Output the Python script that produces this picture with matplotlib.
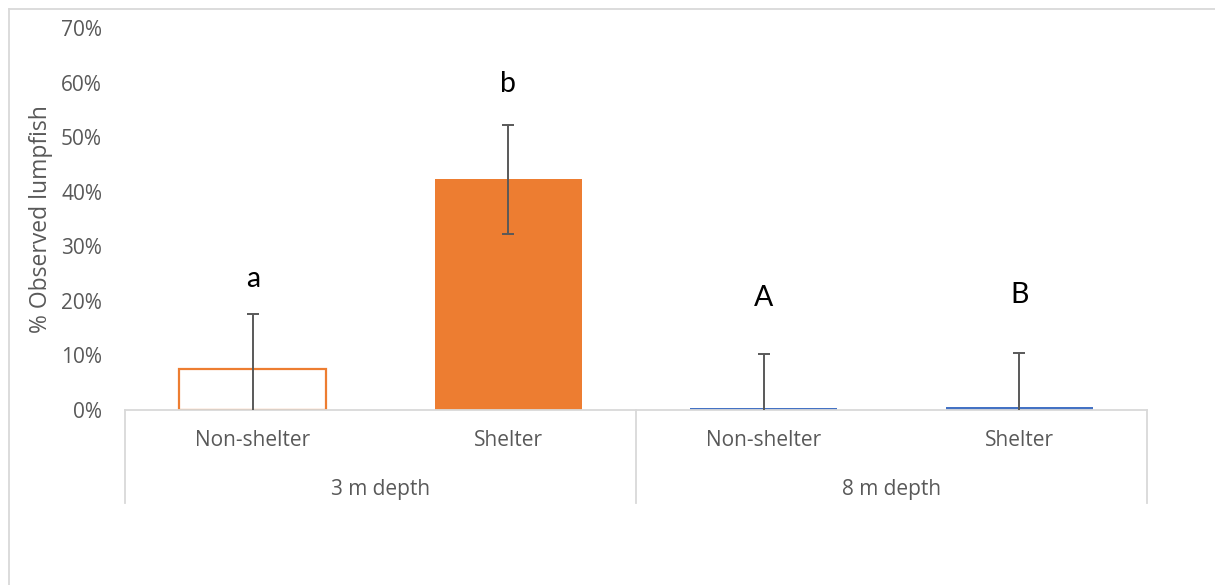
import matplotlib.pyplot as plt
from matplotlib.lines import Line2D

# observed lumpfish per treatment (%), with error (+/- %)
shelter_types = ["Non-shelter", "Shelter", "Non-shelter", "Shelter"]
depths = ["3 m depth", "8 m depth"]
observed = [7.6, 42.3, 0.3, 0.5]
errors = [10.0, 10.0, 10.0, 10.0]
letters = ["a", "b", "A", "B"]
letter_y = [22.6, 58.3, 19.1, 19.6]
yticks = [0, 10, 20, 30, 40, 50, 60, 70]

orange = "#ED7D31"
blue = "#4472C4"
grey = "#595959"
line_grey = "#D9D9D9"

fig = plt.figure(figsize=(12.15, 5.85), dpi=100)
W, H = 1215, 585
ax = fig.add_axes([125 / W, 1 - 410 / H, (1147 - 125) / W, (410 - 28) / H])

x = list(range(len(observed)))
face = ["white", orange, blue, blue]
edge = [orange, orange, blue, blue]
ax.bar(x, observed, width=0.575, color=face, edgecolor=edge, linewidth=[1.6, 0, 0, 0], zorder=2)
ax.errorbar(x, observed, yerr=errors, fmt="none", ecolor=grey, elinewidth=1.4,
            capsize=4.6, capthick=1.4, zorder=3)

for xi, lab, ly in zip(x, letters, letter_y):
    ax.text(xi, ly, lab, ha="center", va="baseline", fontsize=20.5, family="Lato", color="black")

ax.set_xlim(-0.5, 3.5)
ax.set_ylim(0, 70)
ax.set_yticks(yticks)
ax.set_yticklabels([f"{t}%" for t in yticks], family="Open Sans", fontsize=15, color=grey)
ax.tick_params(axis="y", length=0, pad=16.5)
ax.set_xticks([])
for s in ["top", "right", "left"]:
    ax.spines[s].set_visible(False)
ax.spines["bottom"].set_color(line_grey)
ax.spines["bottom"].set_linewidth(1.3)

ax.set_ylabel("% Observed lumpfish", family="Open Sans", fontsize=16.5, color=grey, labelpad=6)

# two-level category axis
trans = ax.get_xaxis_transform()
for xi, lab in zip(x, shelter_types):
    ax.text(xi, -31 / 382, lab, transform=trans, ha="center", va="center",
            family="Open Sans", fontsize=15, color=grey)
for i, lab in enumerate(depths):
    ax.text(2 * i + 0.5, -79 / 382, lab, transform=trans, ha="center", va="center",
            family="Open Sans", fontsize=15, color=grey)
for xs in [-0.5, 1.5, 3.5]:
    ax.add_line(Line2D([xs, xs], [0, -93 / 382], transform=trans, color=line_grey,
                       lw=1.3, clip_on=False))

# chart frame
fig.add_artist(Line2D([9 / W, 9 / W], [0, 1 - 9 / H], color=line_grey, lw=1.3))
fig.add_artist(Line2D([9 / W, 1], [1 - 9 / H, 1 - 9 / H], color=line_grey, lw=1.3))

fig.savefig("out.png", dpi=100)
